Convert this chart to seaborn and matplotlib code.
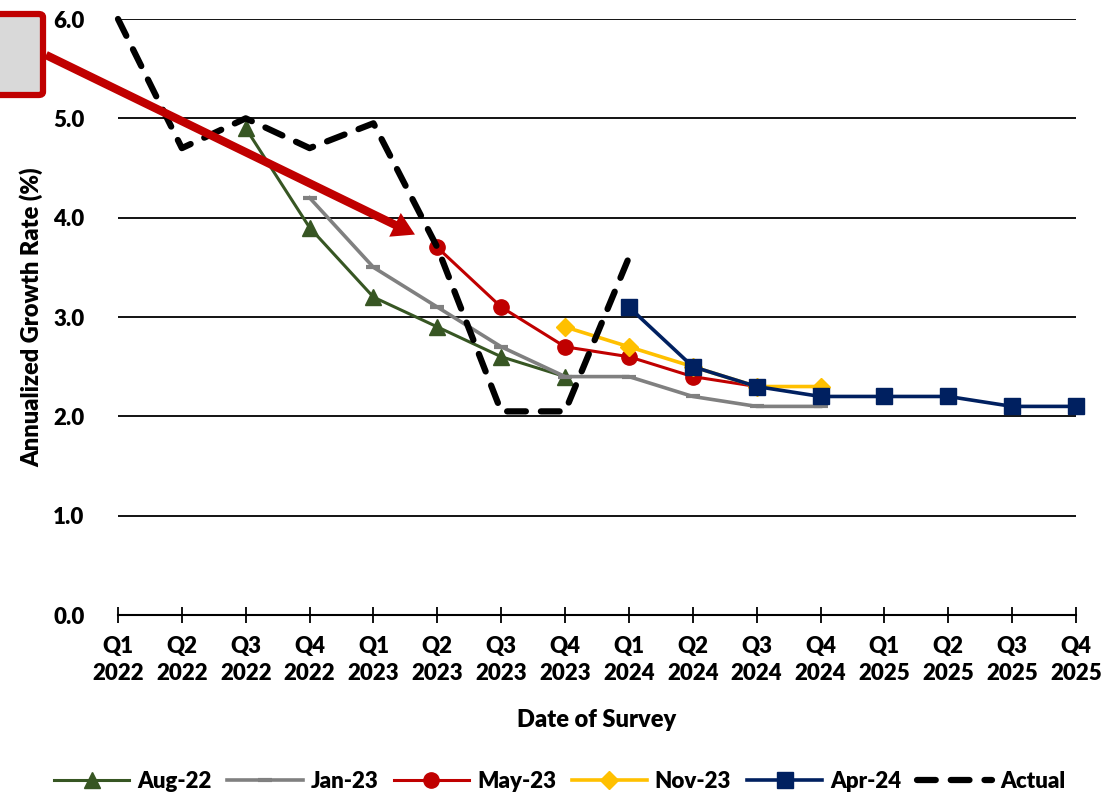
import numpy as np
import pandas as pd
import seaborn as sns
import matplotlib.pyplot as plt
from matplotlib.patches import FancyBboxPatch

# quarters on the x axis
quarters = ['Q1\n2022', 'Q2\n2022', 'Q3\n2022', 'Q4\n2022',
            'Q1\n2023', 'Q2\n2023', 'Q3\n2023', 'Q4\n2023',
            'Q1\n2024', 'Q2\n2024', 'Q3\n2024', 'Q4\n2024',
            'Q1\n2025', 'Q2\n2025', 'Q3\n2025', 'Q4\n2025']

# survey forecasts: index of first quarter + values
aug22_start = 2
aug22 = [4.9, 3.9, 3.2, 2.9, 2.6, 2.4]
jan23_start = 3
jan23 = [4.2, 3.5, 3.1, 2.7, 2.4, 2.4, 2.2, 2.1, 2.1]
may23_start = 5
may23 = [3.7, 3.1, 2.7, 2.6, 2.4, 2.3]
nov23_start = 7
nov23 = [2.9, 2.7, 2.5, 2.3, 2.3]
apr24_start = 8
apr24 = [3.1, 2.5, 2.3, 2.2, 2.2, 2.2, 2.1, 2.1]
actual_start = 0
actual = [6.0, 4.7, 5.0, 4.7, 4.95, 3.7, 2.05, 2.05, 3.6]

series = [
    ('Aug-22', aug22_start, aug22, '#375623', '^', 11, 2.2),
    ('Jan-23', jan23_start, jan23, '#808080', '_', 10, 2.6),
    ('May-23', may23_start, may23, '#C00000', 'o', 11, 2.2),
    ('Nov-23', nov23_start, nov23, '#FFC000', 'D', 9, 2.6),
    ('Apr-24', apr24_start, apr24, '#002060', 's', 11.5, 2.6),
]

FONT = 'Lato'
plt.rcParams['font.family'] = [FONT, 'DejaVu Sans']
W = 'heavy'

fig = plt.figure(figsize=(11.19, 7.98), dpi=100)
ax = fig.add_axes([118/1119, 1-615/798, (1076-118)/1119, (615-19)/798])

for name, start, vals, col, mk, ms, lw in series:
    x = np.arange(start, start + len(vals))
    sns.lineplot(x=x, y=vals, color=col, marker=mk, markersize=ms,
                 markeredgecolor=col, markeredgewidth=3 if mk == '_' else 1,
                 linewidth=lw, label=name, ax=ax, clip_on=False, zorder=3)

xa = np.arange(actual_start, actual_start + len(actual))
sns.lineplot(x=xa, y=actual, color='black', linewidth=4.5,
             label='Actual', ax=ax, clip_on=False, zorder=4)
ln = ax.lines[-1]
ln.set_linestyle((0, (3.0, 2.4)))
ln.set_dash_capstyle('round')

ax.set_xlim(0, 15)
ax.set_ylim(0, 6)
ax.set_xticks(range(len(quarters)))
ax.set_xticklabels(quarters, fontsize=16, fontweight=W, linespacing=1.35)
ax.set_yticks(range(7))
ax.set_yticklabels([f'{v:.1f}' for v in range(7)], fontsize=16, fontweight=W)
ax.tick_params(axis='x', direction='inout', length=12, width=1.3, pad=9, color='black')
ax.tick_params(axis='y', length=0, pad=24)
ax.yaxis.grid(True, color='black', linewidth=1.3)
ax.set_axisbelow(True)
for s in ['left', 'top', 'right']:
    ax.spines[s].set_visible(False)
ax.spines['bottom'].set_color('black')
ax.spines['bottom'].set_linewidth(1.5)
ax.set_facecolor('white')

ax.set_xlabel('Date of Survey', fontsize=17, fontweight=W, labelpad=18)
ax.set_ylabel('Annualized Growth Rate (%)', fontsize=17, fontweight=W, labelpad=7)

# annotation box with arrow
box = FancyBboxPatch((-0.06, 1-95/798), 43/1119 + 0.06, (95-14)/798,
                     boxstyle='round,pad=0,rounding_size=0.004',
                     transform=fig.transFigure, facecolor='#D9D9D9',
                     edgecolor='#C00000', linewidth=4.5, clip_on=False, zorder=10)
fig.patches.append(box)
ax.annotate('', xy=(4.65, 3.83), xycoords='data',
            xytext=(46/1119, 1-55/798), textcoords='figure fraction',
            arrowprops=dict(arrowstyle='simple,head_length=1.6,head_width=1.9,tail_width=0.6',
                            lw=0, color='#C00000', mutation_scale=10,
                            shrinkA=0, shrinkB=0),
            annotation_clip=False, zorder=6)

handles, labels = ax.get_legend_handles_labels()
ax.get_legend().remove()
fig.legend(handles, labels, loc='center', bbox_to_anchor=(0.5, 1-781/798),
           ncol=6, frameon=False, handlelength=3.4, columnspacing=0.7,
           handletextpad=0.35, prop={'family': FONT, 'weight': W, 'size': 16})

fig.savefig('out.png', dpi=100, facecolor='white')
